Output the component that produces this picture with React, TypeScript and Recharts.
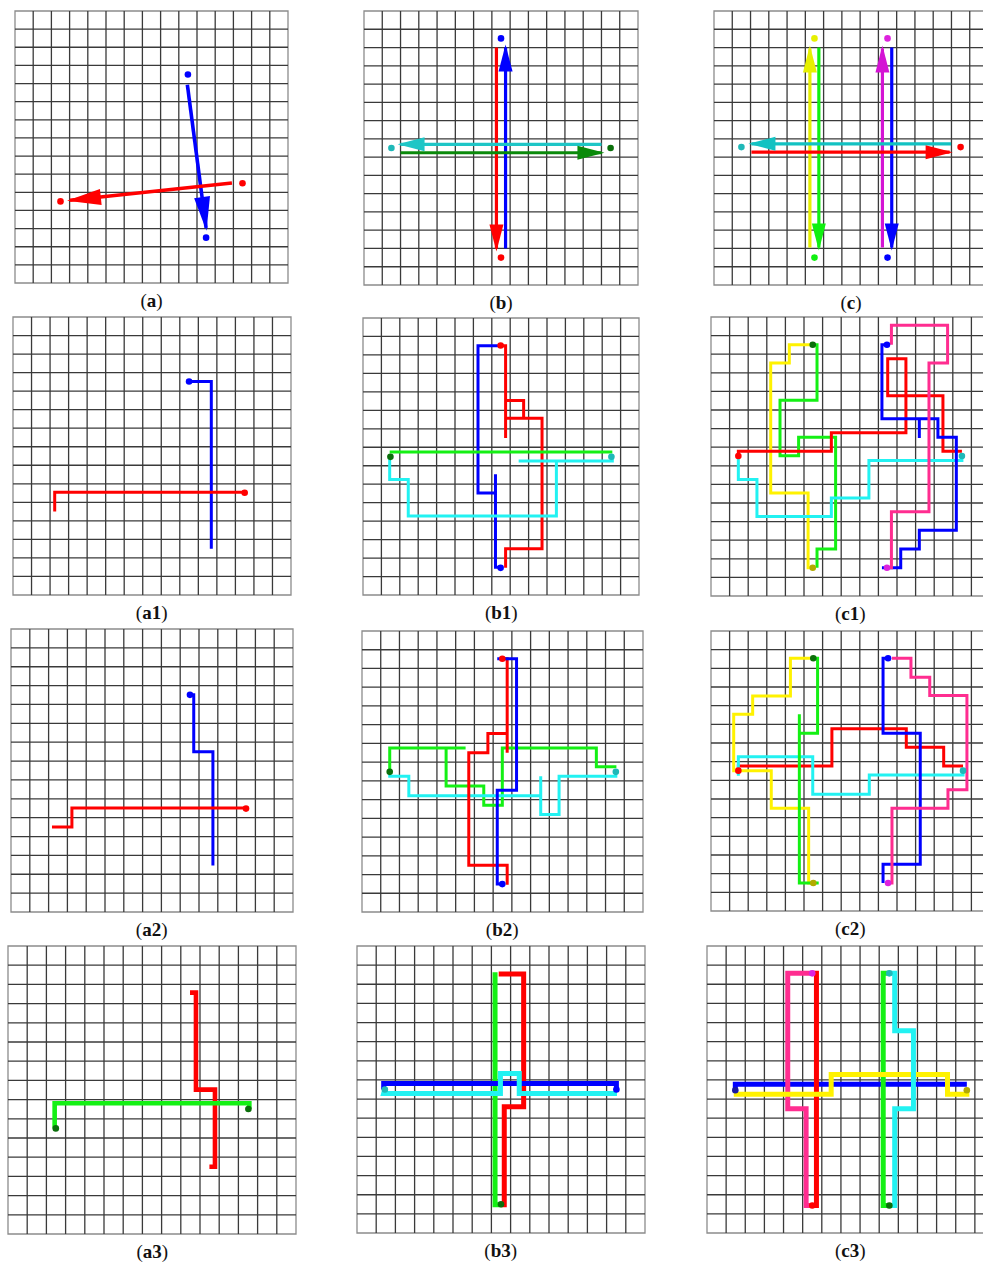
import React from "react";
import {
  ComposedChart,
  Line,
  ReferenceArea,
  ReferenceLine,
  Scatter,
  XAxis,
  YAxis,
} from "recharts";

type Pt = [number, number];

// grid coordinates in cells, x from left, y from top (15 x 15 grid)
const GRID_LINES = [1, 2, 3, 4, 5, 6, 7, 8, 9, 10, 11, 12, 13, 14];

// (a) — straight arrows
const A_BLUE: Pt[] = [[9.47, 4.07], [10.5, 11.96]];
const A_RED: Pt[] = [[11.92, 9.49], [3.02, 10.44]];
const A_DOTS_BLUE: Pt[] = [[9.5, 3.5], [10.5, 12.5]];
const A_DOTS_RED: Pt[] = [[12.5, 9.5], [2.5, 10.5]];

// (b)
const B_BLUE: Pt[] = [[7.75, 13.0], [7.75, 2.0]];
const B_RED: Pt[] = [[7.25, 2.0], [7.25, 13.0]];
const B_CYAN: Pt[] = [[13.0, 7.3], [2.0, 7.3]];
const B_GREEN: Pt[] = [[2.0, 7.76], [13.0, 7.76]];

// (c)
const C_YELLOW: Pt[] = [[5.25, 12.95], [5.25, 2.05]];
const C_GREEN: Pt[] = [[5.74, 2.0], [5.74, 12.95]];
const C_MAGENTA: Pt[] = [[9.22, 12.95], [9.22, 2.05]];
const C_BLUE: Pt[] = [[9.73, 2.0], [9.73, 12.95]];
const C_CYAN: Pt[] = [[12.98, 7.27], [2.05, 7.27]];
const C_RED: Pt[] = [[2.05, 7.73], [12.9, 7.73]];

// (a1)
const A1_BLUE: Pt[] = [[9.5, 3.48], [10.7, 3.48], [10.7, 12.5]];
const A1_RED: Pt[] = [[12.5, 9.45], [2.25, 9.45], [2.25, 10.5]];

// (b1)
const B1_BLUE: Pt[] = [[7.5, 1.5], [6.25, 1.5], [6.25, 9.47], [7.2, 9.47], [7.2, 8.46], [7.2, 13.5], [7.45, 13.5]];
const B1_RED: Pt[] = [[7.5, 1.5], [7.75, 1.5], [7.75, 6.5], [7.75, 4.47], [8.73, 4.47], [8.73, 5.43], [7.75, 5.43], [9.73, 5.43], [9.73, 12.5], [7.75, 12.5], [7.75, 13.53]];
const B1_GREEN: Pt[] = [[1.45, 7.25], [13.55, 7.25]];
const B1_CYAN: Pt[] = [[13.55, 7.5], [13.55, 7.75], [8.46, 7.75], [10.51, 7.75], [10.51, 10.72], [2.46, 10.72], [2.46, 8.75], [1.45, 8.75], [1.45, 7.5]];

// (c1)
const C1_YELLOW: Pt[] = [[5.45, 1.49], [4.21, 1.49], [4.21, 2.47], [3.21, 2.47], [3.21, 9.46], [5.22, 9.46], [5.22, 13.48], [5.45, 13.48]];
const C1_GREEN: Pt[] = [[5.5, 1.49], [5.7, 1.49], [5.7, 4.48], [3.71, 4.48], [3.71, 7.46], [4.71, 7.46], [4.71, 6.47], [6.7, 6.47], [6.7, 12.47], [5.7, 12.47], [5.7, 13.48]];
const C1_RED: Pt[] = [[1.47, 7.47], [1.47, 7.22], [6.47, 7.22], [6.47, 6.22], [10.48, 6.22], [10.48, 2.24], [9.5, 2.24], [9.5, 4.23], [12.47, 4.23], [12.47, 7.22], [13.49, 7.22]];
const C1_CYAN: Pt[] = [[13.49, 7.47], [13.49, 7.71], [8.49, 7.71], [8.49, 9.73], [6.47, 9.73], [6.47, 10.72], [2.47, 10.72], [2.47, 8.73], [1.47, 8.73], [1.47, 7.47]];
const C1_BLUE: Pt[] = [[9.46, 1.49], [9.19, 1.49], [9.19, 5.47], [11.2, 5.47], [11.2, 6.5], [11.2, 5.47], [12.2, 5.47], [12.2, 6.47], [13.19, 6.47], [13.19, 11.47], [11.2, 11.47], [11.2, 12.47], [10.2, 12.47], [10.2, 13.48], [9.19, 13.48]];
const C1_PINK: Pt[] = [[9.46, 13.48], [9.7, 13.48], [9.7, 10.47], [11.72, 10.47], [11.72, 2.47], [12.72, 2.47], [12.72, 0.45], [9.7, 0.45], [9.7, 1.49]];

// (a2)
const A2_BLUE: Pt[] = [[9.52, 3.49], [9.72, 3.49], [9.72, 6.51], [10.74, 6.51], [10.74, 12.54]];
const A2_RED: Pt[] = [[12.5, 9.49], [3.24, 9.49], [3.24, 10.5], [2.18, 10.5]];

// (b2)
const B2_BLUE: Pt[] = [[7.22, 1.48], [8.25, 1.48], [8.25, 8.5], [7.22, 8.5], [7.22, 13.51], [7.49, 13.51]];
const B2_RED: Pt[] = [[7.49, 1.48], [7.75, 1.48], [7.75, 6.5], [7.75, 5.47], [6.72, 5.47], [6.72, 6.5], [5.7, 6.5], [5.7, 12.51], [7.75, 12.51], [7.75, 13.55]];
const B2_GREEN: Pt[] = [[1.48, 7.52], [1.48, 6.24], [5.53, 6.24], [4.49, 6.24], [4.49, 8.27], [6.5, 8.27], [6.5, 9.3], [7.49, 9.3], [7.49, 6.24], [12.51, 6.24], [12.51, 7.25], [13.58, 7.25]];
const B2_CYAN: Pt[] = [[13.55, 7.52], [13.55, 7.75], [10.52, 7.75], [10.52, 9.79], [9.54, 9.79], [9.54, 7.75], [9.54, 8.8], [2.5, 8.8], [2.5, 7.75], [1.48, 7.75], [1.48, 7.52]];

// (c2)
const C2_YELLOW: Pt[] = [[5.45, 1.46], [4.27, 1.46], [4.27, 3.48], [2.24, 3.48], [2.24, 4.46], [1.22, 4.46], [1.22, 7.48], [3.24, 7.48], [3.24, 9.5], [5.25, 9.5], [5.25, 13.5], [5.5, 13.5]];
const C2_GREEN: Pt[] = [[5.5, 1.46], [5.73, 1.46], [5.73, 5.48], [4.75, 5.48], [4.75, 4.46], [4.75, 13.5], [5.79, 13.5]];
const C2_RED: Pt[] = [[1.47, 7.48], [1.47, 7.23], [6.5, 7.23], [6.5, 5.23], [10.5, 5.23], [10.5, 6.23], [12.51, 6.23], [12.51, 7.23], [13.55, 7.23]];
const C2_CYAN: Pt[] = [[13.55, 7.48], [13.55, 7.71], [8.51, 7.71], [8.51, 8.75], [5.47, 8.75], [5.47, 6.73], [1.47, 6.73], [1.47, 7.75]];
const C2_BLUE: Pt[] = [[9.52, 1.46], [9.25, 1.46], [9.25, 5.48], [11.25, 5.48], [11.25, 12.5], [9.25, 12.5], [9.25, 13.5]];
const C2_PINK: Pt[] = [[9.52, 13.5], [9.73, 13.5], [9.73, 9.5], [12.74, 9.5], [12.74, 8.5], [13.76, 8.5], [13.76, 3.46], [11.76, 3.46], [11.76, 2.48], [10.75, 2.48], [10.75, 1.46], [9.73, 1.46]];

// (a3)
const A3_RED: Pt[] = [[9.48, 2.43], [9.79, 2.43], [9.79, 7.48], [10.78, 7.48], [10.78, 11.5], [10.49, 11.5]];
const A3_GREEN: Pt[] = [[2.43, 9.5], [2.43, 8.19], [12.57, 8.19], [12.57, 8.49]];

// (b3)
const B3_GREEN: Pt[] = [[7.19, 1.37], [7.19, 13.52], [7.5, 13.52]];
const B3_RED: Pt[] = [[7.38, 1.46], [8.68, 1.46], [8.68, 8.4], [7.67, 8.4], [7.67, 13.52], [7.5, 13.52]];
const B3_BLUE: Pt[] = [[1.39, 7.5], [1.39, 7.19], [13.51, 7.19], [13.51, 7.5]];
const B3_CYAN: Pt[] = [[1.45, 7.5], [1.39, 7.71], [7.47, 7.71], [7.47, 6.67], [8.45, 6.67], [8.45, 7.71], [13.54, 7.71]];

// (c3)
const C3_BLUE: Pt[] = [[1.48, 7.54], [1.48, 7.23], [13.58, 7.23]];
const C3_PINK: Pt[] = [[5.5, 1.43], [4.22, 1.43], [4.22, 8.5], [5.18, 8.5], [5.18, 13.56], [5.5, 13.56]];
const C3_RED: Pt[] = [[5.5, 1.43], [5.72, 1.43], [5.72, 13.56], [5.5, 13.56]];
const C3_GREEN: Pt[] = [[9.53, 1.43], [9.21, 1.43], [9.21, 13.56], [9.53, 13.56]];
const C3_YELLOW: Pt[] = [[1.4, 7.75], [6.49, 7.75], [6.49, 6.72], [12.57, 6.72], [12.57, 7.75], [13.58, 7.75], [13.58, 7.54]];
const C3_CYAN: Pt[] = [[9.53, 1.43], [9.81, 1.43], [9.81, 4.43], [10.79, 4.43], [10.79, 8.5], [9.81, 8.5], [9.81, 13.56], [9.53, 13.56]];

const RED = "#ff0000";
const BLUE = "#0000ff";
const LIME = "#14f014";
const CYAN = "#22f2f2";
const YELLOW = "#fff200";
const PINK = "#ff2d90";
const MAGENTA = "#dd22dd";
const DKGREEN = "#0b6f0b";
const TEAL = "#1fb8b8";
const OLIVE = "#b3aa00";

type Series = { pts: Pt[]; color: string; arrow?: boolean };
type Dot = { pt: Pt; color: string };
type PanelCfg = {
  label: string;
  box: [number, number, number, number];
  lw: number;
  head?: [number, number];
  series: Series[];
  dots: Dot[];
};

const dots = (pts: Pt[], color: string): Dot[] => pts.map((pt) => ({ pt, color }));

const PANELS: PanelCfg[] = [
  {
    label: "a",
    box: [15, 11, 273, 272],
    lw: 3.6,
    head: [34, 16],
    series: [
      { pts: A_BLUE, color: BLUE, arrow: true },
      { pts: A_RED, color: RED, arrow: true },
    ],
    dots: [...dots(A_DOTS_BLUE, BLUE), ...dots(A_DOTS_RED, RED)],
  },
  {
    label: "b",
    box: [364, 11, 274, 274],
    lw: 3.2,
    head: [27, 14],
    series: [
      { pts: B_RED, color: RED, arrow: true },
      { pts: B_BLUE, color: BLUE, arrow: true },
      { pts: B_CYAN, color: "#1ec6c6", arrow: true },
      { pts: B_GREEN, color: "#0a8a0a", arrow: true },
    ],
    dots: [
      { pt: [7.5, 1.5], color: BLUE },
      { pt: [7.5, 13.5], color: RED },
      { pt: [1.5, 7.5], color: TEAL },
      { pt: [13.5, 7.5], color: DKGREEN },
    ],
  },
  {
    label: "c",
    box: [714, 11, 274, 274],
    lw: 3.2,
    head: [27, 14],
    series: [
      { pts: C_YELLOW, color: "#e6f000", arrow: true },
      { pts: C_GREEN, color: "#10f010", arrow: true },
      { pts: C_MAGENTA, color: "#d414d4", arrow: true },
      { pts: C_BLUE, color: BLUE, arrow: true },
      { pts: C_CYAN, color: "#12c2c2", arrow: true },
      { pts: C_RED, color: RED, arrow: true },
    ],
    dots: [
      { pt: [5.5, 1.5], color: "#e6f000" },
      { pt: [5.5, 13.5], color: "#10f010" },
      { pt: [9.5, 1.5], color: MAGENTA },
      { pt: [9.5, 13.5], color: BLUE },
      { pt: [1.5, 7.45], color: TEAL },
      { pt: [13.5, 7.45], color: RED },
    ],
  },
  {
    label: "a1",
    box: [12.7, 316.7, 278, 278],
    lw: 3,
    series: [
      { pts: A1_BLUE, color: BLUE },
      { pts: A1_RED, color: RED },
    ],
    dots: [
      { pt: [9.5, 3.48], color: BLUE },
      { pt: [12.5, 9.48], color: RED },
    ],
  },
  {
    label: "b1",
    box: [363.3, 318.3, 276, 277],
    lw: 3,
    series: [
      { pts: B1_BLUE, color: BLUE },
      { pts: B1_RED, color: RED },
      { pts: B1_GREEN, color: LIME },
      { pts: B1_CYAN, color: CYAN },
    ],
    dots: [
      { pt: [7.48, 1.49], color: RED },
      { pt: [7.48, 13.53], color: BLUE },
      { pt: [1.49, 7.52], color: DKGREEN },
      { pt: [13.5, 7.52], color: TEAL },
    ],
  },
  {
    label: "c1",
    box: [710.7, 316.7, 279, 279],
    lw: 3,
    series: [
      { pts: C1_YELLOW, color: YELLOW },
      { pts: C1_GREEN, color: LIME },
      { pts: C1_RED, color: RED },
      { pts: C1_CYAN, color: CYAN },
      { pts: C1_BLUE, color: BLUE },
      { pts: C1_PINK, color: PINK },
    ],
    dots: [
      { pt: [5.47, 1.49], color: DKGREEN },
      { pt: [5.47, 13.48], color: OLIVE },
      { pt: [1.47, 7.47], color: RED },
      { pt: [13.49, 7.47], color: TEAL },
      { pt: [9.46, 1.49], color: BLUE },
      { pt: [9.46, 13.48], color: MAGENTA },
    ],
  },
  {
    label: "a2",
    box: [10.7, 629.3, 282, 283],
    lw: 3,
    series: [
      { pts: A2_BLUE, color: BLUE },
      { pts: A2_RED, color: RED },
    ],
    dots: [
      { pt: [9.52, 3.49], color: BLUE },
      { pt: [12.5, 9.52], color: RED },
    ],
  },
  {
    label: "b2",
    box: [361.7, 631, 281, 281],
    lw: 3,
    series: [
      { pts: B2_GREEN, color: LIME },
      { pts: B2_CYAN, color: CYAN },
      { pts: B2_RED, color: RED },
      { pts: B2_BLUE, color: BLUE },
    ],
    dots: [
      { pt: [7.49, 1.48], color: RED },
      { pt: [7.49, 13.51], color: BLUE },
      { pt: [1.48, 7.52], color: DKGREEN },
      { pt: [13.55, 7.52], color: TEAL },
    ],
  },
  {
    label: "c2",
    box: [710.7, 631, 279, 280],
    lw: 3,
    series: [
      { pts: C2_YELLOW, color: YELLOW },
      { pts: C2_RED, color: RED },
      { pts: C2_CYAN, color: CYAN },
      { pts: C2_GREEN, color: LIME },
      { pts: C2_BLUE, color: BLUE },
      { pts: C2_PINK, color: PINK },
    ],
    dots: [
      { pt: [5.5, 1.46], color: DKGREEN },
      { pt: [5.5, 13.5], color: OLIVE },
      { pt: [1.47, 7.48], color: RED },
      { pt: [13.55, 7.48], color: TEAL },
      { pt: [9.52, 1.46], color: BLUE },
      { pt: [9.52, 13.5], color: MAGENTA },
    ],
  },
  {
    label: "a3",
    box: [8.3, 945.7, 288, 288],
    lw: 4.6,
    series: [
      { pts: A3_RED, color: RED },
      { pts: A3_GREEN, color: LIME },
    ],
    dots: [
      { pt: [2.49, 9.5], color: DKGREEN },
      { pt: [12.52, 8.49], color: DKGREEN },
    ],
  },
  {
    label: "b3",
    box: [356.7, 946, 288, 287],
    lw: 5,
    series: [
      { pts: B3_GREEN, color: LIME },
      { pts: B3_RED, color: RED },
      { pts: B3_BLUE, color: BLUE },
      { pts: B3_CYAN, color: CYAN },
    ],
    dots: [
      { pt: [7.5, 13.5], color: DKGREEN },
      { pt: [1.45, 7.5], color: TEAL },
      { pt: [13.51, 7.5], color: BLUE },
    ],
  },
  {
    label: "c3",
    box: [706.7, 946, 287, 287],
    lw: 5,
    series: [
      { pts: C3_BLUE, color: BLUE },
      { pts: C3_PINK, color: PINK },
      { pts: C3_RED, color: RED },
      { pts: C3_GREEN, color: LIME },
      { pts: C3_YELLOW, color: YELLOW },
      { pts: C3_CYAN, color: CYAN },
    ],
    dots: [
      { pt: [5.5, 1.43], color: MAGENTA },
      { pt: [9.53, 1.43], color: TEAL },
      { pt: [5.5, 13.56], color: RED },
      { pt: [9.53, 13.56], color: DKGREEN },
      { pt: [1.48, 7.54], color: "#1a1aa0" },
      { pt: [13.58, 7.54], color: OLIVE },
    ],
  },
];

const toData = (pts: Pt[]) => pts.map(([x, y]) => ({ x, y }));

function arrowDot(pts: Pt[], color: string, head: [number, number], sx: number, sy: number) {
  const [len, wid] = head;
  return (props: any) => {
    const { cx, cy, index } = props;
    if (index !== pts.length - 1) return <g key={`n${index}`} />;
    const [x0, y0] = pts[pts.length - 2];
    const [x1, y1] = pts[pts.length - 1];
    let dx = (x1 - x0) * sx;
    let dy = (y1 - y0) * sy;
    const n = Math.hypot(dx, dy) || 1;
    dx /= n;
    dy /= n;
    const tx = cx + dx * 3;
    const ty = cy + dy * 3;
    const bx = tx - dx * len;
    const by = ty - dy * len;
    const px = (-dy * wid) / 2;
    const py = (dx * wid) / 2;
    return (
      <polygon
        key="head"
        points={`${tx},${ty} ${bx + px},${by + py} ${bx - px},${by - py}`}
        fill={color}
      />
    );
  };
}

const PAD = 4;
const GRID_STROKE = "#3a3a3a";

function Panel({ cfg }: { cfg: PanelCfg }) {
  const [left, top, w, h] = cfg.box;
  const sx = w / 15;
  const sy = h / 15;
  return (
    <>
      <div style={{ position: "absolute", left: left - PAD, top: top - PAD }}>
        <ComposedChart
          width={w + PAD * 2}
          height={h + PAD * 2}
          margin={{ top: PAD, right: PAD, bottom: PAD, left: PAD }}
        >
          <XAxis type="number" dataKey="x" domain={[0, 15]} hide allowDataOverflow />
          <YAxis type="number" dataKey="y" domain={[0, 15]} reversed hide allowDataOverflow />
          {GRID_LINES.map((v) => (
            <ReferenceLine key={`vx${v}`} x={v} stroke={GRID_STROKE} strokeWidth={1.3} />
          ))}
          {GRID_LINES.map((v) => (
            <ReferenceLine key={`hy${v}`} y={v} stroke={GRID_STROKE} strokeWidth={1.3} />
          ))}
          <ReferenceArea
            x1={0}
            x2={15}
            y1={0}
            y2={15}
            fill="none"
            stroke="#8c8c8c"
            strokeWidth={1.3}
            ifOverflow="visible"
          />
          {cfg.series.map((s, i) => (
            <Line
              key={`s${i}`}
              data={toData(s.pts)}
              dataKey="y"
              type="linear"
              stroke={s.color}
              strokeWidth={cfg.lw}
              strokeLinejoin="miter"
              strokeLinecap="butt"
              dot={s.arrow && cfg.head ? arrowDot(s.pts, s.color, cfg.head, sx, sy) : false}
              activeDot={false}
              isAnimationActive={false}
            />
          ))}
          {cfg.dots.map((d, i) => (
            <Scatter
              key={`d${i}`}
              data={toData([d.pt])}
              fill={d.color}
              isAnimationActive={false}
              shape={(p: any) => <circle cx={p.cx} cy={p.cy} r={3.3} fill={d.color} />}
            />
          ))}
        </ComposedChart>
      </div>
      <div
        style={{
          position: "absolute",
          left,
          top: top + h + 6,
          width: w,
          textAlign: "center",
          fontFamily: "'Liberation Serif', serif",
          fontSize: 19,
          lineHeight: "24px",
          color: "#111",
        }}
      >
        (<b>{cfg.label}</b>)
      </div>
    </>
  );
}

export default function App() {
  return (
    <div
      style={{
        position: "absolute",
        left: 0,
        top: 0,
        width: 983,
        height: 1266,
        overflow: "hidden",
        background: "#fff",
      }}
    >
      {PANELS.map((p) => (
        <Panel key={p.label} cfg={p} />
      ))}
    </div>
  );
}
